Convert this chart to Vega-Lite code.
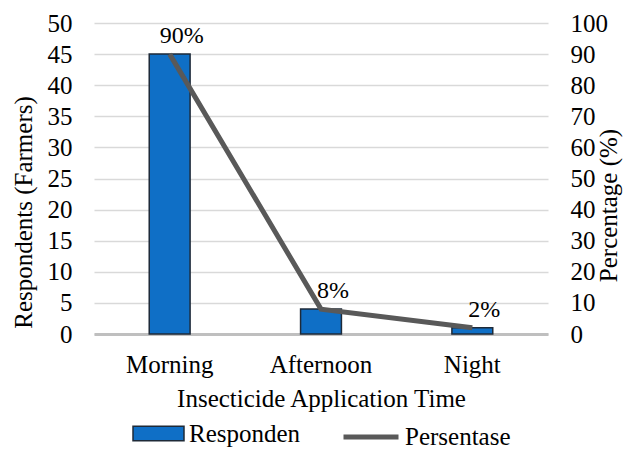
{
  "$schema": "https://vega.github.io/schema/vega-lite/v6.json",
  "autosize": "none",
  "width": 454,
  "height": 311,
  "padding": {"left": 94, "top": 23, "right": 77, "bottom": 115},
  "background": "white",
  "config": {
    "font": "Liberation Serif",
    "view": {"stroke": null},
    "axis": {"labelFont": "Liberation Serif", "titleFont": "Liberation Serif", "labelFontSize": 25, "titleFontSize": 25, "titleFontWeight": "normal", "labelColor": "#000", "titleColor": "#000", "ticks": false, "labelOverlap": false},
    "legend": {"labelFont": "Liberation Serif", "labelFontSize": 25, "labelColor": "#000", "layout": {"bottom": {"anchor": "middle", "direction": "horizontal", "margin": 40}}}
  },
  "data": {"values": [
    {"time": "Morning", "resp": 45, "pct": 90, "label": "90%", "s1": "Responden", "s2": "Persentase"},
    {"time": "Afternoon", "resp": 4, "pct": 8, "label": "8%", "s1": "Responden", "s2": "Persentase"},
    {"time": "Night", "resp": 1, "pct": 2, "label": "2%", "s1": "Responden", "s2": "Persentase"}
  ]},
  "encoding": {
    "x": {"field": "time", "type": "nominal", "sort": null, "scale": {"paddingInner": 0, "paddingOuter": 0},
      "axis": {"title": "Insecticide Application Time", "labelAngle": 0, "labelPadding": 18, "titlePadding": 9, "domainColor": "#bfbfbf", "domainWidth": 3}}
  },
  "layer": [
    {
      "mark": {"type": "bar", "width": {"band": 0.27}, "stroke": "#1e2a38", "strokeWidth": 1.5},
      "encoding": {
        "y": {"field": "resp", "type": "quantitative", "scale": {"domain": [0, 50]},
          "axis": {"title": "Respondents (Farmers)", "titleY": 189, "values": [0,5,10,15,20,25,30,35,40,45,50], "labelOverlap": false, "domain": false, "gridColor": "#d9d9d9", "gridWidth": 1.5, "labelPadding": 22, "titlePadding": 11}},
        "fill": {"field": "s1", "type": "nominal", "scale": {"domain": ["Responden"], "range": ["#0F6FC6"]},
          "legend": {"title": null, "orient": "bottom", "labelFont": "Liberation Serif", "labelFontSize": 25, "labelColor": "#000", "symbolType": "M-1,-0.28H1V0.28H-1Z", "symbolSize": 2600, "symbolStrokeColor": "#1e2a38", "symbolStrokeWidth": 1.5, "labelOffset": 4, "offset": -4}}
      }
    },
    {
      "encoding": {
        "y": {"field": "pct", "type": "quantitative", "scale": {"domain": [0, 100]},
          "axis": {"title": "Percentage (%)", "orient": "right", "titleAngle": 270, "titleY": 182, "values": [0,10,20,30,40,50,60,70,80,90,100], "labelOverlap": false, "domain": false, "grid": false, "labelPadding": 22, "titlePadding": 14}}
      },
      "layer": [
        {
          "mark": {"type": "line", "strokeWidth": 5},
          "encoding": {
            "stroke": {"field": "s2", "type": "nominal", "scale": {"domain": ["Persentase"], "range": ["#595959"]},
              "legend": {"title": null, "orient": "bottom", "labelFont": "Liberation Serif", "labelFontSize": 25, "labelColor": "#000", "symbolType": "stroke", "symbolStrokeWidth": 5, "symbolSize": 3025, "labelOffset": 4, "offset": -4}}
          }
        },
        {
          "mark": {"type": "text", "fontSize": 24, "dx": 12, "dy": -18, "color": "#000", "font": "Liberation Serif"},
          "encoding": {
            "text": {"field": "label"}
          }
        }
      ]
    }
  ],
  "resolve": {"scale": {"y": "independent"}}
}
